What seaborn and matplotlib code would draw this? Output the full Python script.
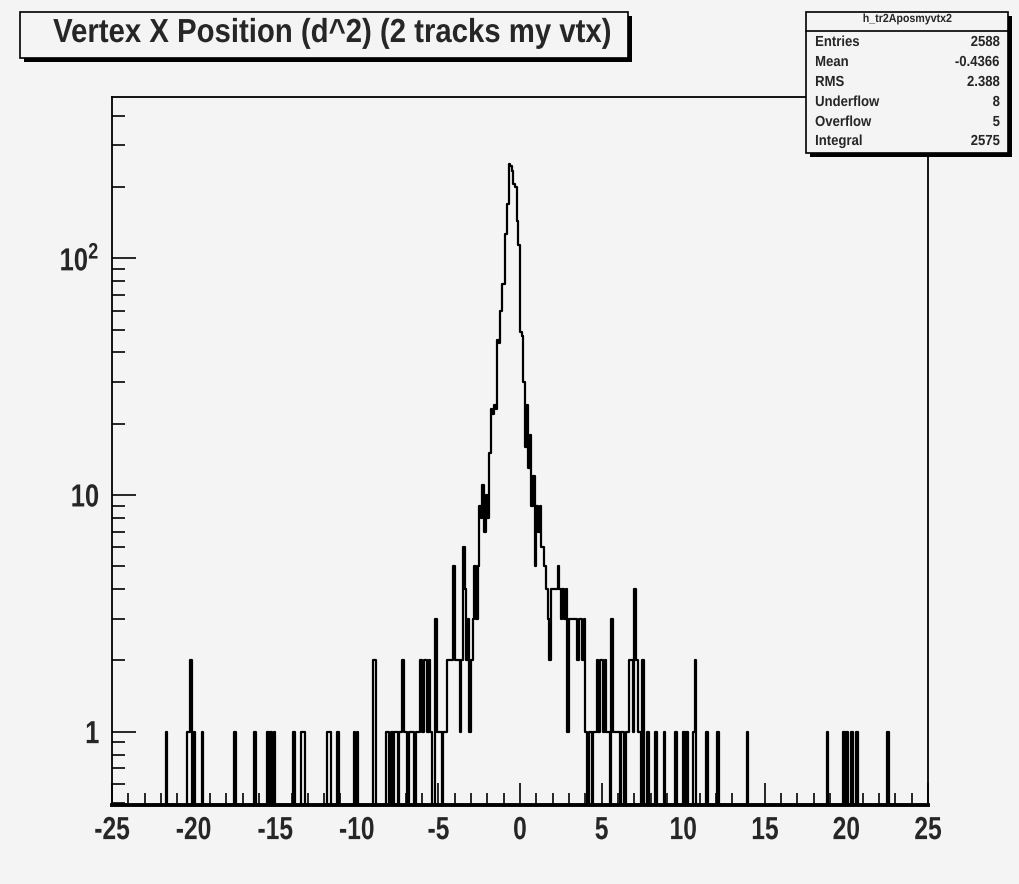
import numpy as np
import pandas as pd
import matplotlib
matplotlib.use("Agg")
import matplotlib.pyplot as plt
from matplotlib.patches import Rectangle
from matplotlib.lines import Line2D
from matplotlib.patheffects import AbstractPathEffect
from matplotlib.transforms import Affine2D
from matplotlib.ticker import MultipleLocator, LogLocator, FuncFormatter, NullFormatter
import seaborn as sns

# ---- histogram definition: 500 bins of width 0.1 on [-25, 25] ----
x_low, x_high, n_bins = -25.0, 25.0, 500

# contiguous central region, bins starting at core_start
core_start = -3.0
core_counts = [2, 3, 5, 3, 5, 9, 8, 11, 7, 10,
               8, 15, 23, 22, 24, 23, 45, 44, 60, 78,
               78, 127, 169, 249, 245, 233, 206, 200, 143, 114,
               49, 47, 30, 16, 24, 13, 18, 9, 12, 5,
               9, 7, 9, 6, 6, 5, 4, 3, 2, 4,
               4, 4, 4, 5, 4, 3, 4, 3, 4, 1,
               3, 3, 3, 3, 3, 2, 3, 3, 2, 3]

# sparse negative-side tail (bin low edges and contents)
left_tail_x = [-21.7, -20.4, -20.3, -20.2, -20.0, -19.5, -17.5, -16.3, -15.5, -15.3,
               -15.1, -13.9, -13.4, -13.3, -11.8, -11.7, -11.2, -10.2, -10.0, -9.0,
               -8.9, -8.2, -8.1, -7.9, -7.7, -7.6, -7.4, -7.3, -7.2, -7.1,
               -7.0, -6.8, -6.7, -6.6, -6.4, -6.3, -6.2, -6.1, -6.0, -5.9,
               -5.8, -5.7, -5.6, -5.5, -5.2, -5.1, -5.0, -4.9, -4.7, -4.6,
               -4.5, -4.4, -4.3, -4.2, -4.1, -4.0, -3.9, -3.8, -3.7, -3.6,
               -3.5, -3.4, -3.3, -3.2, -3.1]
left_tail_n = [1, 1, 1, 2, 1, 1, 1, 1, 1, 1,
               1, 1, 1, 1, 1, 1, 1, 1, 1, 2,
               2, 1, 1, 1, 1, 1, 1, 1, 2, 1,
               1, 1, 1, 1, 1, 1, 1, 2, 1, 2,
               2, 1, 2, 1, 3, 1, 1, 1, 1, 1,
               2, 2, 2, 2, 5, 2, 2, 2, 1, 2,
               6, 4, 2, 3, 1]

# sparse positive-side tail
right_tail_x = [4.0, 4.2, 4.3, 4.5, 4.6, 4.7, 4.8, 4.9, 5.0, 5.1,
                5.2, 5.3, 5.4, 5.6, 5.7, 5.8, 5.9, 6.0, 6.2, 6.3,
                6.5, 6.6, 6.7, 6.8, 6.9, 7.0, 7.1, 7.2, 7.3, 7.5,
                7.8, 8.3, 8.8, 9.5, 10.0, 10.2, 10.6, 10.7, 11.4, 12.1,
                13.9, 18.8, 19.8, 20.0, 20.3, 20.6, 22.5]
right_tail_n = [1, 1, 1, 1, 1, 2, 1, 2, 2, 1,
                2, 1, 1, 3, 1, 1, 1, 1, 1, 1,
                1, 1, 2, 2, 1, 4, 2, 1, 1, 2,
                1, 1, 1, 1, 1, 1, 1, 2, 1, 1,
                1, 1, 1, 1, 1, 1, 1]

x_ticks = [-25, -20, -15, -10, -5, 0, 5, 10, 15, 20, 25]

title_text = "Vertex X Position (d^2) (2 tracks my vtx)"
stats_name = "h_tr2Aposmyvtx2"
stat_labels = ["Entries", "Mean", "RMS", "Underflow", "Overflow", "Integral"]
stat_values = ["2588", "-0.4366", "2.388", "8", "5", "2575"]

# ---- assemble bin contents ----
bin_width = (x_high - x_low) / n_bins
edges = np.linspace(x_low, x_high, n_bins + 1)
centers = 0.5 * (edges[:-1] + edges[1:])
counts = np.zeros(n_bins)


def bin_index(x):
    return int(round((x - x_low) / bin_width))


for k, c in enumerate(core_counts):
    counts[bin_index(core_start) + k] = c
for xv, c in zip(left_tail_x, left_tail_n):
    counts[bin_index(xv)] = c
for xv, c in zip(right_tail_x, right_tail_n):
    counts[bin_index(xv)] = c

hist_df = pd.DataFrame({"x": centers, "n": counts})


class Squeeze(AbstractPathEffect):
    """Draw glyph outlines compressed horizontally (a narrow-font look)."""

    def __init__(self, sx=0.8, anchor="center"):
        super().__init__()
        self.sx = sx
        self.anchor = anchor

    def draw_path(self, renderer, gc, tpath, affine, rgbFace=None):
        ext = tpath.get_extents(affine)
        x0 = {"left": ext.x0, "right": ext.x1,
              "center": 0.5 * (ext.x0 + ext.x1)}[self.anchor]
        squeeze = Affine2D().translate(-x0, 0).scale(self.sx, 1).translate(x0, 0)
        renderer.draw_path(gc, tpath, affine + squeeze, rgbFace)


# ---- style ----
bg = "#f4f4f4"
sns.set_style("ticks")
plt.rcParams["font.family"] = ["Liberation Sans", "DejaVu Sans"]
plt.rcParams["font.weight"] = "bold"
plt.rcParams["axes.unicode_minus"] = False
plt.rcParams["mathtext.fontset"] = "custom"
plt.rcParams["mathtext.bf"] = "Liberation Sans:bold"
plt.rcParams["mathtext.rm"] = "Liberation Sans:bold"

W, H = 1019, 884
fig = plt.figure(figsize=(W / 100, H / 100), dpi=100, facecolor=bg)
ax = fig.add_axes([112 / W, 1 - 805 / H, (928 - 112) / W, (805 - 97) / H])
ax.set_facecolor(bg)

sns.histplot(data=hist_df, x="x", weights="n", bins=list(edges), element="step",
             fill=False, color="black", linewidth=1.6, ax=ax)

ax.set_yscale("log")
ax.set_xlim(x_low, x_high)
ax.set_ylim(0.49, 480)
ax.set_xlabel("")
ax.set_ylabel("")

# frame
for side in ["left", "right", "top"]:
    ax.spines[side].set_color("black")
    ax.spines[side].set_linewidth(1.3)
ax.spines["bottom"].set_linewidth(2.8)
ax.spines["bottom"].set_color("black")

# x axis ticks
ax.set_xticks(x_ticks)
ax.set_xticklabels([str(t) for t in x_ticks])
ax.xaxis.set_minor_locator(MultipleLocator(1))
ax.tick_params(axis="x", which="major", direction="in", length=16, width=1.4,
               labelsize=23, pad=8, top=False)
ax.tick_params(axis="x", which="minor", direction="in", length=8.5, width=1.4, top=False)


def y_label(v, pos):
    if np.isclose(v, 1):
        return "1"
    if np.isclose(v, 10):
        return "10"
    if np.isclose(v, 100):
        return r"$\mathbf{10^{2}}$"
    return ""


ax.yaxis.set_major_locator(LogLocator(base=10, numticks=10))
ax.yaxis.set_major_formatter(FuncFormatter(y_label))
ax.yaxis.set_minor_locator(LogLocator(base=10, subs=np.arange(2, 10), numticks=20))
ax.yaxis.set_minor_formatter(NullFormatter())
ax.tick_params(axis="y", which="major", direction="in", length=17, width=1.4,
               labelsize=23, pad=9, right=False)
ax.tick_params(axis="y", which="minor", direction="in", length=9, width=1.4, right=False)


def fx(px):
    return px / W


def fy(py):
    return 1 - py / H


def box(x0, y0, x1, y1, shadow=4):
    fig.patches.append(Rectangle((fx(x0 + shadow), fy(y1 + shadow)), fx(x1 - x0), (y1 - y0) / H,
                                 transform=fig.transFigure, facecolor="black",
                                 edgecolor="black", lw=0, zorder=5))
    fig.patches.append(Rectangle((fx(x0), fy(y1)), fx(x1 - x0), (y1 - y0) / H,
                                 transform=fig.transFigure, facecolor=bg,
                                 edgecolor="black", lw=1.2, zorder=6))


# title box
box(20, 12, 628, 58, shadow=4)
fig.text(fx(333), fy(42), title_text, ha="center", va="baseline", fontsize=24,
         fontweight="bold", zorder=7, path_effects=[Squeeze(0.88, "center")])

# statistics box
box(806, 12, 1008, 153, shadow=4)
fig.lines.append(Line2D([fx(806), fx(1008)], [fy(31), fy(31)], transform=fig.transFigure,
                        color="black", lw=1.2, zorder=7))
fig.text(fx(907), fy(19), stats_name, ha="center", va="center", fontsize=8.5,
         fontweight="bold", zorder=7, path_effects=[Squeeze(0.9, "center")])
row_y = [42, 62, 82, 102, 122, 141]
for ry, lab, val in zip(row_y, stat_labels, stat_values):
    fig.text(fx(815), fy(ry), lab, ha="left", va="center", fontsize=10.5,
             fontweight="bold", zorder=7, path_effects=[Squeeze(0.9, "left")])
    fig.text(fx(1000), fy(ry), val, ha="right", va="center", fontsize=10.5,
             fontweight="bold", zorder=7, path_effects=[Squeeze(0.9, "right")])

# narrow tick labels
fig.canvas.draw()
for lab in ax.get_xticklabels():
    lab.set_fontweight("bold")
    lab.set_path_effects([Squeeze(0.77, "center")])
for lab in ax.get_yticklabels():
    lab.set_fontweight("bold")
    lab.set_path_effects([Squeeze(0.8, "right")])

fig.savefig("out.png", dpi=100, facecolor=bg)
